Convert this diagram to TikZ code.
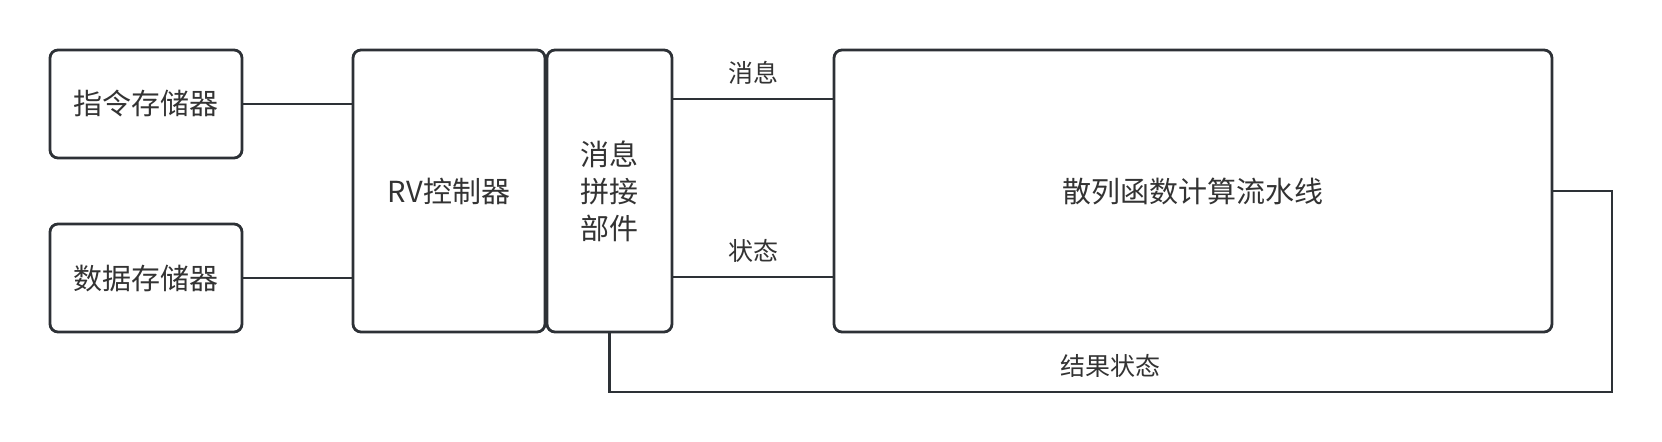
\documentclass[tikz,border=0pt]{standalone}
\usepackage{fontspec}
\setmainfont{Noto Sans CJK SC}
\usetikzlibrary{positioning,calc}
\definecolor{linegray}{HTML}{2D3136}
\definecolor{textgray}{HTML}{333333}

\begin{document}
\begin{tikzpicture}[color=linegray, line width=1.4pt, node distance=33pt and 55.5pt,
      box/.style={draw, rounded corners=4pt, outer sep=0pt, text=textgray, align=center,
        font=\fontsize{14.5}{18.5}\selectfont},
      lbl/.style={text=textgray, font=\fontsize{12.5}{15}\selectfont}]
     \useasboundingbox (0,0) rectangle (831pt,-221pt);
     \node[box, minimum width=96pt, minimum height=54pt] (imem) at (73pt,-52pt) {指令存储器};
     \node[box, minimum width=96pt, minimum height=54pt, below = of imem] (dmem) {数据存储器};
     \node[box, minimum width=96pt, minimum height=141pt, anchor=north west] (rv) at ([xshift=55.5pt]imem.north east) {RV控制器};
     \node[box, minimum width=62.5pt, minimum height=141pt, right = 1pt of rv] (splice) {消息\\拼接\\部件};
     \node[box, minimum width=359pt, minimum height=141pt, right = 81pt of splice] (hash) {散列函数计算流水线};
     \coordinate (fb) at ([xshift=30pt,yshift=-30pt]hash.south east);
     \draw (imem.east) -- (imem.east -| rv.west);
     \draw (dmem.east) -- (dmem.east -| rv.west);
     \draw ([yshift=-24.5pt]splice.north east) coordinate (msg) -- (msg -| hash.west) node[lbl, midway, above=3pt]{消息};
     \draw ([yshift=27.5pt]splice.south east) coordinate (st) -- (st -| hash.west) node[lbl, midway, above=3pt]{状态};
     \draw (hash.east) -| (fb) -| (splice.south) node[lbl, pos=0.25, above=3pt]{结果状态};
    \end{tikzpicture}
\end{document}
